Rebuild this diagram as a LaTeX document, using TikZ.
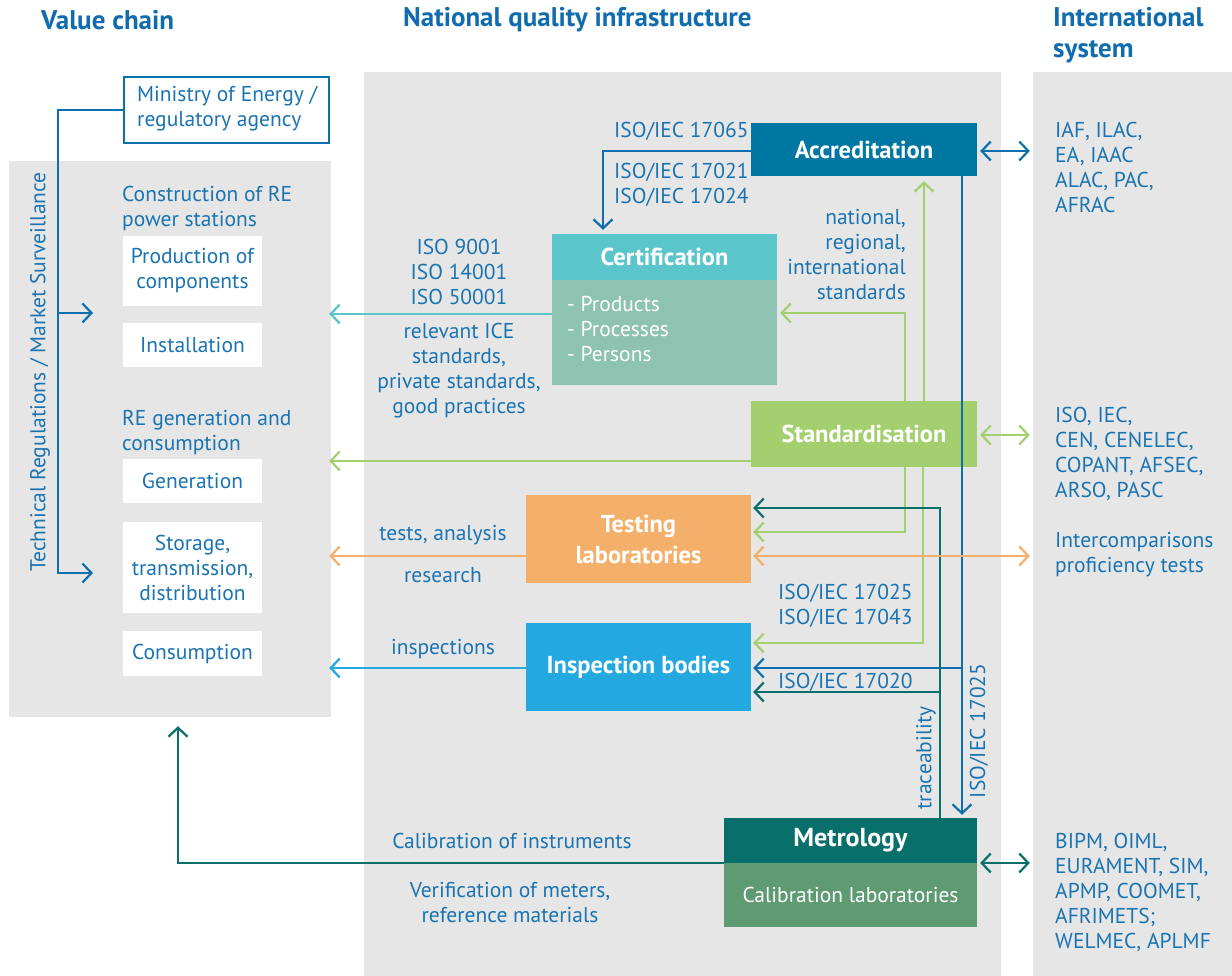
\documentclass[tikz,border=0pt]{standalone}
\usepackage{fontspec}
\setmainfont{PT Sans}
\usetikzlibrary{arrows.meta,calc}
\definecolor{tblue}{RGB}{26,116,178}
\definecolor{hblue}{RGB}{16,108,174}
\definecolor{panel}{RGB}{230,230,230}
\definecolor{accc}{RGB}{0,119,163}
\definecolor{lblue}{RGB}{13,112,174}
\definecolor{certh}{RGB}{90,197,203}
\definecolor{certb}{RGB}{141,195,176}
\definecolor{stdc}{RGB}{163,207,110}
\definecolor{testc}{RGB}{244,176,106}
\definecolor{inspc}{RGB}{35,168,224}
\definecolor{metc}{RGB}{8,111,107}
\definecolor{calib}{RGB}{94,154,114}
\tikzset{
  x=1pt, y=1pt,
  >={Straight Barb[length=9pt,width=19pt]},
  txt/.style={text=tblue, font=\fontsize{21.5}{25}\selectfont, inner sep=0pt},
  head/.style={text=hblue, font=\fontsize{27}{31}\selectfont\bfseries, inner sep=0pt, align=left},
  bg/.style={fill=panel, draw=none, inner sep=0pt},
  wbox/.style={fill=white, text=tblue, font=\fontsize{21.5}{25}\selectfont, align=center, inner sep=0pt, minimum width=139pt},
  cbox/.style={text=white, font=\fontsize{24.5}{31}\selectfont\bfseries, align=center, inner sep=0pt},
  conn/.style={line width=2.2pt},
}
\begin{document}
\begin{tikzpicture}
\useasboundingbox (0,0) rectangle (1232,-976);
% panels
\node[bg, minimum width=322pt, minimum height=556pt] (vc) at (170,-439) {};
\node[bg, minimum width=637pt, minimum height=904pt] (nqi) at (682.5,-524) {};
\node[bg, minimum width=199pt, minimum height=904pt] (isys) at (1132.5,-524) {};
% headings
\node[head, anchor=west] (h1) at (41,-20) {Value chain};
\node[head, anchor=west] (h2) at (403,-20) {National quality infrastructure};
\node[head, anchor=west] (h3) at (1053,-35.5) {International\\system};
% ministry
\node[draw=lblue, line width=2.5pt, fill=white, minimum width=205pt, minimum height=66pt, inner sep=0pt] (min) at (226.5,-110) {};
\node[txt, anchor=west, align=left] (mint) at (137,-108.5) {Ministry of Energy /\\regulatory agency};
% value chain
\node[txt, anchor=west, align=left] (c1) at (122,-208.5) {Construction of RE\\power stations};
\node[wbox, minimum height=70pt] (prod) at (192.5,-271) {Production of\\components};
\node[wbox, minimum height=44pt] (inst) at (192.5,-345) {Installation};
\node[txt, anchor=west, align=left] (c2) at (122,-432.5) {RE generation and\\consumption};
\node[wbox, minimum height=44pt] (gen) at (192.5,-481) {Generation};
\node[wbox, minimum height=91pt] (stor) at (192.5,-567.5) {Storage,\\transmission,\\distribution};
\node[wbox, minimum height=45pt] (cons) at (192.5,-653.5) {Consumption};
\node[txt, rotate=90] (treg) at (40,-372) {Technical Regulations / Market Surveillance};
\coordinate (tr1) at (93,-313);
\coordinate (tr2) at (93,-573);
\draw[conn, lblue, ->] (min.west) -| (58,-573) -- (tr2);
\draw[conn, lblue, ->] (58,-313) -- (tr1);
% NQI boxes
\node[cbox, fill=accc, minimum width=226pt, minimum height=53pt] (acc) at (864,-149.5) {Accreditation};
\node[cbox, fill=certh, minimum width=225pt, minimum height=46pt] (certh) at (664.5,-257) {Certification};
\node[fill=certb, minimum width=225pt, minimum height=105pt, inner sep=0pt] (certb) at (664.5,-332.5) {};
\node[txt, text=white, anchor=west, align=left] (certt) at (567,-329) {- Products\\- Processes\\- Persons};
\node[cbox, fill=stdc, minimum width=226pt, minimum height=66pt] (std) at (864,-434) {Standardisation};
\node[cbox, fill=testc, minimum width=225pt, minimum height=88pt] (test) at (638.5,-539) {Testing\\laboratories};
\node[cbox, fill=inspc, minimum width=225pt, minimum height=88pt] (insp) at (638.5,-667) {Inspection bodies};
\node[cbox, fill=metc, minimum width=253pt, minimum height=45pt, font=\fontsize{26}{31}\selectfont\bfseries] (meth) at (850.5,-840.5) {Metrology};
\node[fill=calib, minimum width=253pt, minimum height=64pt, inner sep=0pt, text=white, font=\fontsize{21.5}{25}\selectfont] (metb) at (850.5,-895) {Calibration laboratories};
% labels
\node[txt, anchor=west] (l1) at (614,-131) {ISO/IEC 17065};
\node[txt, anchor=west, align=left] (l2) at (614,-184.5) {ISO/IEC 17021\\ISO/IEC 17024};
\node[txt, anchor=east, align=right] (l3) at (906,-254.5) {national,\\regional,\\international\\standards};
\node[txt, align=center] (l4) at (459,-272) {ISO 9001\\ISO 14001\\ISO 50001};
\node[txt, align=center] (l5) at (459,-370.5) {relevant ICE\\standards,\\private standards,\\good practices};
\node[txt] (l6) at (443,-535) {tests, analysis};
\node[txt] (l7) at (443,-575) {research};
\node[txt, anchor=west, align=left] (l8) at (778,-605.5) {ISO/IEC 17025\\ISO/IEC 17043};
\node[txt, anchor=west] (l9) at (778,-682) {ISO/IEC 17020};
\node[txt] (l10) at (443,-649) {inspections};
\node[txt] (l11) at (512,-841) {Calibration of instruments};
\node[txt, align=center] (l12) at (510,-902.5) {Verification of meters,\\reference materials};
\node[txt, rotate=90] (l13) at (926,-758) {traceability};
\node[txt, rotate=90] (l14) at (979,-731) {ISO/IEC 17025};
% international
\node[txt, anchor=west, align=left] (i1) at (1055,-167) {IAF, ILAC,\\EA, IAAC\\ALAC, PAC,\\AFRAC};
\node[txt, anchor=west, align=left] (i2) at (1055,-453.5) {ISO, IEC,\\CEN, CENELEC,\\COPANT, AFSEC,\\ARSO, PASC};
\node[txt, anchor=west, align=left] (i3) at (1055,-554.5) {Intercomparisons\\proficiency tests};
\node[txt, anchor=west, align=left] (i4) at (1055,-892.5) {BIPM, OIML,\\EURAMENT, SIM,\\APMP, COOMET,\\AFRIMETS;\\WELMEC, APLMF};
% connectors
\draw[conn, lblue, ->, shorten >=4pt] (acc.west |- 0,-151) -| (certh.north -| 603,0);
\draw[conn, certh, ->, shorten >=-2pt] (certb.west |- 0,-314) -- (vc.east |- 0,-314);
\draw[conn, stdc, ->, shorten >=3pt] (std.north -| 905,0) |- (certb.east |- 0,-313);
\draw[conn, stdc, ->, shorten >=5pt] (std.north -| 924,0) -- (acc.south -| 924,0);
\draw[conn, stdc, ->, shorten >=-2pt] (std.west |- 0,-461) -- (vc.east |- 0,-461);
\draw[conn, stdc, ->, shorten >=2pt] (std.south -| 905,0) |- (test.east |- 0,-532);
\draw[conn, stdc, ->, shorten >=2pt] (std.south -| 923,0) |- (insp.east |- 0,-643);
\draw[conn, lblue, ->, shorten >=3pt] (acc.south -| 962,0) -- (meth.north -| 962,0);
\draw[conn, lblue, ->, shorten >=2pt] (962,-668) -- (insp.east |- 0,-668);
\draw[conn, metc, ->, shorten >=2pt] (meth.north -| 940,0) |- (test.east |- 0,-508);
\draw[conn, metc, ->, shorten >=2pt] (940,-692) -- (insp.east |- 0,-692);
\draw[conn, testc, <->, shorten <=2pt, shorten >=3pt] (test.east |- 0,-556) -- (isys.west |- 0,-556);
\draw[conn, testc, ->, shorten >=-2pt] (test.west |- 0,-556) -- (vc.east |- 0,-556);
\draw[conn, inspc, ->, shorten >=-2pt] (insp.west |- 0,-668) -- (vc.east |- 0,-668);
\draw[conn, lblue, <->, shorten <=3pt, shorten >=3pt] (acc.east |- 0,-151) -- (isys.west |- 0,-151);
\draw[conn, stdc, <->, shorten <=3pt, shorten >=3pt] (std.east |- 0,-435) -- (isys.west |- 0,-435);
\draw[conn, metc, <->, shorten <=3pt, shorten >=3pt] (meth.east |- 0,-863) -- (isys.west |- 0,-863);
\draw[conn, metc, ->, shorten >=9pt] (meth.west |- 0,-863) -| (vc.south -| 178,0);
\end{tikzpicture}
\end{document}
